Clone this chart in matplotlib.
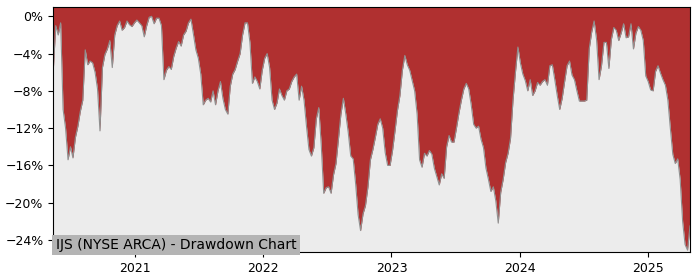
import matplotlib
matplotlib.use("Agg")
import matplotlib.pyplot as plt
import matplotlib.ticker as mticker
import matplotlib.dates as mdates
import pandas as pd
import numpy as np

# Weekly drawdown readings (%), starting 2020-05-13
start_date = "2020-05-13"
drawdown = [
    -5.8, -1.0, -2.0, -0.7, -10.0, -12.0, -15.4, -14.0, -15.2, -13.0,
    -11.8, -10.2, -9.0, -3.6, -5.2, -4.8, -5.0, -6.0, -7.8, -12.3,
    -5.5, -4.1, -3.5, -2.6, -5.5, -2.0, -1.0, -0.5, -1.5, -1.2,
    -0.5, -0.9, -1.1, -0.7, -0.4, -0.7, -1.0, -2.2, -1.0, -0.1,
    0.0, -0.8, -0.2, -0.2, -1.0, -6.8, -5.8, -5.4, -5.7, -4.3,
    -3.4, -2.7, -3.2, -2.0, -1.6, -0.7, -0.3, -1.9, -3.6, -4.5,
    -6.2, -9.5, -9.0, -8.8, -9.2, -8.0, -9.5, -8.0, -7.0, -8.8,
    -10.0, -10.5, -7.5, -6.2, -5.7, -4.8, -4.0, -2.0, -0.7, -0.7,
    -2.8, -7.2, -6.5, -7.0, -7.8, -5.8, -4.5, -4.0, -5.5, -9.0,
    -10.0, -9.3, -7.8, -8.5, -9.0, -8.0, -7.8, -7.0, -6.5, -6.2,
    -9.0, -7.5, -9.0, -11.8, -14.3, -15.0, -14.1, -11.0, -9.8, -13.8,
    -19.0, -18.4, -18.3, -19.0, -17.0, -15.8, -13.2, -10.5, -8.8, -10.5,
    -12.5, -15.0, -15.3, -18.0, -21.3, -23.0, -21.2, -20.3, -18.3, -15.4,
    -14.3, -13.0, -11.6, -11.0, -12.0, -14.6, -16.0, -16.0, -14.4, -12.3,
    -10.1, -8.5, -5.8, -4.2, -5.2, -5.8, -6.9, -8.0, -10.5, -15.4,
    -16.2, -14.7, -15.0, -14.4, -14.8, -16.3, -17.2, -18.1, -16.9, -17.4,
    -14.0, -12.8, -13.5, -13.5, -12.0, -10.4, -9.0, -7.8, -7.2, -7.8,
    -9.5, -11.6, -12.0, -11.8, -13.2, -14.1, -16.3, -17.5, -18.8, -18.3,
    -19.8, -22.2, -18.9, -17.5, -15.7, -14.7, -13.1, -9.0, -6.0, -3.3,
    -5.0, -6.2, -6.9, -8.0, -6.8, -8.5, -8.0, -7.1, -7.4, -7.0,
    -6.8, -7.4, -5.3, -5.2, -6.8, -8.5, -10.0, -8.8, -7.0, -5.3,
    -4.8, -6.3, -6.8, -8.0, -9.1, -9.1, -9.1, -9.0, -3.5, -1.7,
    -0.5, -2.5, -6.8, -5.3, -2.8, -2.8, -5.6, -2.5, -1.2, -1.5,
    -2.6, -1.8, -0.8, -2.3, -2.2, -0.8, -3.5, -1.8, -1.1, -1.5,
    -2.6, -6.4, -7.0, -7.9, -8.0, -5.9, -5.3, -6.1, -6.8, -7.4,
    -9.0, -12.0, -14.8, -15.8, -15.3, -17.5, -22.0, -24.5, -25.1, -22.5,
]
yticks = [0, -4, -8, -12, -16, -20, -24]
title = "IJS (NYSE ARCA) - Drawdown Chart"

dates = pd.date_range(start_date, periods=len(drawdown), freq="7D")
dd = np.array(drawdown)

fig = plt.figure(figsize=(7, 2.8), dpi=100)
ax = fig.add_axes([0.0761, 0.1, 0.9096, 0.875])
ax.set_facecolor("#ececec")
ytop, ybot = 1.0, -25.3
ax.fill_between(dates, dd, ytop, color="#b03030", linewidth=0)
ax.plot(dates, dd, color="#909090", linewidth=0.8)
ax.set_ylim(ybot, ytop)
ax.set_xlim(dates[0], dates[-1])
ax.set_yticks(yticks)
ax.yaxis.set_major_formatter(mticker.FuncFormatter(
    lambda v, p: f"{v:.0f}%".replace("-", "\u2212")))
ax.xaxis.set_major_locator(mdates.YearLocator())
ax.xaxis.set_major_formatter(mdates.DateFormatter("%Y"))
ax.tick_params(labelsize=9)
ax.text(0.004, 0.0, title, transform=ax.transAxes, fontsize=10,
        ha="left", va="bottom",
        bbox=dict(facecolor="#b4b4b4", edgecolor="none", pad=2.5))
fig.savefig("out.png", dpi=100)
